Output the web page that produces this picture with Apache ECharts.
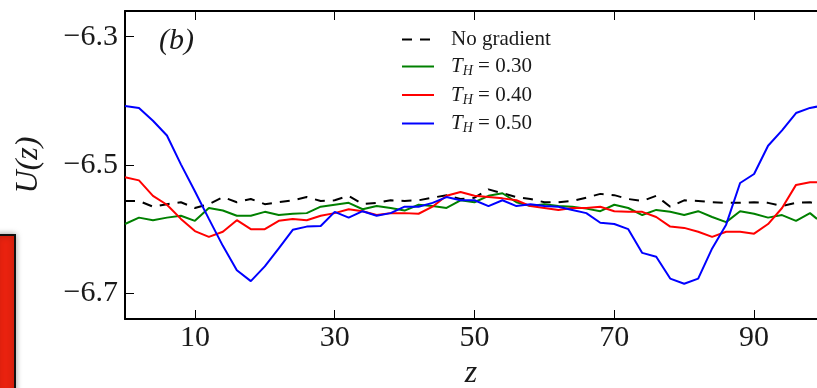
<!DOCTYPE html>
<html>
<head>
<meta charset="utf-8">
<script src="https://cdn.jsdelivr.net/npm/echarts@6/dist/echarts.min.js"></script>
<style>
  html, body { margin: 0; padding: 0; background: #fff; }
  #chart { width: 817px; height: 388px; }
</style>
</head>
<body>
<div id="chart"></div>
<script>
// z positions, read every 2 units along the axis
const zValues = [0, 2, 4, 6, 8, 10, 12, 14, 16, 18, 20, 22, 24, 26, 28, 30, 32, 34, 36, 38, 40, 42, 44, 46, 48,
  50, 52, 54, 56, 58, 60, 62, 64, 66, 68, 70, 72, 74, 76, 78, 80, 82, 84, 86, 88, 90, 92, 94, 96, 98, 99];

const noGradient = [-6.556, -6.556, -6.565, -6.561, -6.558, -6.567, -6.561, -6.550, -6.558, -6.553, -6.561, -6.558,
  -6.555, -6.550, -6.556, -6.555, -6.548, -6.561, -6.559, -6.555, -6.556, -6.555, -6.551, -6.547, -6.553,
  -6.551, -6.538, -6.544, -6.550, -6.553, -6.558, -6.558, -6.556, -6.551, -6.545, -6.547, -6.553, -6.556,
  -6.548, -6.565, -6.555, -6.556, -6.558, -6.559, -6.559, -6.558, -6.559, -6.564, -6.559, -6.558, -6.561];

const th030 = [-6.592, -6.582, -6.586, -6.582, -6.579, -6.587, -6.567, -6.571, -6.579, -6.579, -6.573, -6.578,
  -6.576, -6.575, -6.565, -6.562, -6.559, -6.569, -6.564, -6.567, -6.571, -6.562, -6.564, -6.567, -6.555,
  -6.558, -6.548, -6.544, -6.558, -6.564, -6.561, -6.564, -6.565, -6.568, -6.572, -6.562, -6.567, -6.578,
  -6.570, -6.573, -6.578, -6.572, -6.581, -6.589, -6.572, -6.576, -6.582, -6.578, -6.587, -6.575, -6.584];

const th040 = [-6.519, -6.524, -6.548, -6.562, -6.584, -6.603, -6.612, -6.604, -6.586, -6.600, -6.600, -6.587,
  -6.584, -6.586, -6.579, -6.575, -6.569, -6.572, -6.578, -6.575, -6.575, -6.576, -6.565, -6.548, -6.542,
  -6.548, -6.550, -6.552, -6.555, -6.564, -6.567, -6.570, -6.567, -6.567, -6.565, -6.572, -6.573, -6.573,
  -6.581, -6.596, -6.598, -6.604, -6.612, -6.604, -6.604, -6.607, -6.592, -6.567, -6.531, -6.527, -6.527];

const th050 = [-6.408, -6.411, -6.431, -6.454, -6.499, -6.541, -6.584, -6.626, -6.664, -6.681, -6.658, -6.630,
  -6.601, -6.596, -6.595, -6.573, -6.582, -6.572, -6.579, -6.575, -6.565, -6.565, -6.559, -6.550, -6.555,
  -6.555, -6.564, -6.555, -6.564, -6.561, -6.564, -6.565, -6.570, -6.575, -6.590, -6.592, -6.600, -6.637,
  -6.643, -6.677, -6.685, -6.677, -6.630, -6.593, -6.528, -6.514, -6.470, -6.446, -6.419, -6.411, -6.409];

const seriesNames = ["No gradient", "0.30", "0.40", "0.50"];
const seriesValues = [noGradient, th030, th040, th050];
const seriesColors = ["#000000", "#008000", "#ff0000", "#0000ff"];

const xTicks = [10, 30, 50, 70, 90];
const yTicks = [-6.7, -6.5, -6.3];

const serif = "'Liberation Serif', 'DejaVu Serif', serif";
const textColor = "#1a1a1a";

const chart = echarts.init(document.getElementById("chart"));

const axisLine = { show: true, onZero: false, lineStyle: { color: "#000", width: 2 } };

chart.setOption({
  animation: false,
  grid: { left: 125, right: 0, top: 11, bottom: 69, containLabel: false, outerBoundsMode: "none" },
  legend: {
    orient: "vertical",
    left: 396,
    top: 24,
    itemWidth: 32,
    itemHeight: 12,
    itemGap: 6,
    data: seriesNames,
    itemStyle: { opacity: 0 },
    formatter: function (name) {
      if (name === "No gradient") return "{n|No gradient}";
      return "{t|T}{s|H}{n| = " + name + "}";
    },
    textStyle: {
      fontFamily: serif,
      fontSize: 21,
      color: textColor,
      padding: [0, 0, 0, 12],
      rich: {
        n: { fontFamily: serif, fontSize: 21, color: textColor },
        t: { fontFamily: serif, fontSize: 21, fontStyle: "italic", color: textColor },
        s: { fontFamily: serif, fontSize: 14, fontStyle: "italic", color: textColor, verticalAlign: "bottom", padding: [10, 0, 0, 0] },
      },
    },
  },
  xAxis: [
    {
      type: "value",
      min: 0,
      max: 99,
      name: "z",
      nameLocation: "middle",
      nameGap: 38,
      nameTextStyle: { fontFamily: serif, fontSize: 32, fontStyle: "italic", color: textColor },
      axisLine: axisLine,
      axisTick: { inside: true, length: 9, customValues: xTicks, lineStyle: { color: "#000", width: 1 } },
      axisLabel: { customValues: xTicks, fontFamily: serif, fontSize: 30, color: textColor, margin: 4 },
      splitLine: { show: false },
    },
    {
      type: "value",
      position: "top",
      min: 0,
      max: 99,
      axisLine: axisLine,
      axisTick: { inside: true, length: 9, customValues: xTicks, lineStyle: { color: "#000", width: 1 } },
      axisLabel: { show: false },
      splitLine: { show: false },
    },
  ],
  yAxis: {
    type: "value",
    min: -6.74,
    max: -6.26,
    name: "U(z)",
    nameLocation: "middle",
    nameGap: 80,
    nameTextStyle: { fontFamily: serif, fontSize: 32, fontStyle: "italic", color: textColor },
    axisLine: axisLine,
    axisTick: { inside: true, length: 9, customValues: yTicks, lineStyle: { color: "#000", width: 1 } },
    axisLabel: {
      customValues: yTicks,
      fontFamily: serif,
      fontSize: 30,
      color: textColor,
      margin: 7,
      formatter: (v) => "\u2212" + Math.abs(v).toFixed(1),
    },
    splitLine: { show: false },
  },
  graphic: [
    {
      type: "text",
      left: 159,
      top: 26,
      style: { text: "(b)", font: "italic 30px " + serif, fill: textColor },
    },
    {
      type: "rect",
      shape: { x: -4, y: 235, width: 19, height: 160 },
      style: { fill: "#e9220f", stroke: "#111", lineWidth: 2, shadowBlur: 6, shadowColor: "rgba(0,0,0,0.35)" },
    },
  ],
  series: seriesNames.map((name, i) => ({
    name: name,
    type: "line",
    data: zValues.map((z, k) => [z, seriesValues[i][k]]),
    showSymbol: false,
    symbol: "none",
    clip: true,
    itemStyle: { color: seriesColors[i] },
    lineStyle: {
      color: seriesColors[i],
      width: 2,
      type: i === 0 ? [10, 8] : "solid",
    },
  })),
});
</script>
</body>
</html>
